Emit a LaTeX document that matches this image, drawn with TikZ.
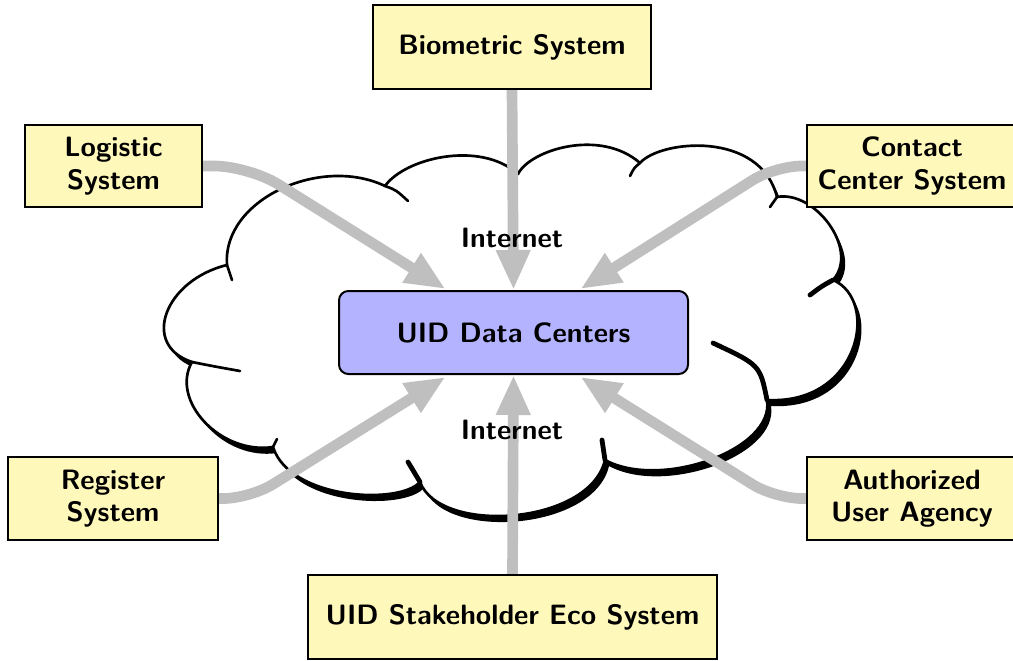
\documentclass[tikz,border=0pt]{standalone}
\usepackage{fontspec}
\usetikzlibrary{arrows.meta,calc}
\definecolor{boxyellow}{RGB}{255,248,187}
\definecolor{dcblue}{RGB}{179,179,255}
\definecolor{arrowgray}{RGB}{191,191,191}
\pgfdeclarelayer{cloudlayer}
\pgfdeclarelayer{arrowlayer}
\pgfsetlayers{cloudlayer,arrowlayer,main}
\newcommand{\txtfont}{\sffamily\bfseries\fontsize{21}{24.5}\selectfont}
\newcommand{\cloudpath}{(227,265) .. controls (222,200) and (320,155) .. (385,186)
 .. controls (405,158) and (480,140) .. (518,174)
 .. controls (530,150) and (600,128) .. (640,163)
 .. controls (660,140) and (760,130) .. (777,197)
 .. controls (815,190) and (860,250) .. (833,280)
 .. controls (880,300) and (860,405) .. (767,400)
 .. controls (775,450) and (660,490) .. (605,460)
 .. controls (590,525) and (440,535) .. (420,482)
 .. controls (400,505) and (290,500) .. (273,447)
 .. controls (220,455) and (170,400) .. (192,362)
 .. controls (140,345) and (165,280) .. (227,265) -- cycle}
\tikzset{
 sysbox/.style={draw=black, line width=1.6pt, fill=boxyellow, inner sep=0pt, align=center, font=\txtfont},
 dcbox/.style={draw=black, line width=1.5pt, fill=dcblue, rounded corners=7pt, inner sep=0pt, align=center, font=\txtfont},
 lbl/.style={inner sep=0pt, font=\txtfont},
 conn/.style={draw=arrowgray, line width=8pt, -{Triangle[length=30pt,width=24pt]}},
 cloudline/.style={draw=black, line width=2pt, line cap=round, line join=round},
 hookline/.style={draw=black, line width=2pt, line cap=round},
 hookthick/.style={draw=black, line width=3.6pt, line cap=round},
}
\begin{document}
\begin{tikzpicture}[x=0.75pt,y=-0.75pt]
\useasboundingbox (0,0) rectangle (1013,660);

% nodes
\node[sysbox, minimum width=208.5pt, minimum height=63pt] (bio) at (512,47) {Biometric System};
\node[sysbox, minimum width=132.75pt, minimum height=61.5pt] (log) at (113.5,166) {Logistic\\System};
\node[sysbox, minimum width=157.5pt, minimum height=61.5pt] (cc) at (912,166) {Contact\\Center System};
\node[sysbox, minimum width=157.5pt, minimum height=62.25pt] (reg) at (113,498.5) {Register\\System};
\node[sysbox, minimum width=157.5pt, minimum height=62.25pt] (aua) at (912,498.5) {Authorized\\User Agency};
\node[sysbox, minimum width=306.75pt, minimum height=63pt] (uid) at (512.5,617) {UID Stakeholder Eco System};
\node[dcbox, minimum width=261.75pt, minimum height=62.25pt] (dc) at (513.5,332.5) {UID Data Centers};

\node[lbl] (inet1) at (512,238) {Internet};
\node[lbl] (inet2) at (512,430) {Internet};

% connector helper points
\coordinate (tNW) at ($(dc.north)+(-68,-1)$);
\coordinate (tNE) at ($(dc.north)+(67,-1)$);
\coordinate (tSW) at ($(dc.south)+(-68,2)$);
\coordinate (tSE) at ($(dc.south)+(67,2)$);
\coordinate (kLog) at (249,166);
\coordinate (kCC) at (775,166);
\coordinate (kReg) at (250,498.5);
\coordinate (kAua) at (775,498.5);

% cloud
\begin{pgfonlayer}{cloudlayer}
\begin{scope}[shift={(4,6)}]
\fill[black] \cloudpath;
\end{scope}
\fill[white] \cloudpath;
\draw[cloudline] \cloudpath;
\draw[hookline] (227,265) .. controls (229,272) .. (232,280);
\draw[hookline] (385,186) .. controls (396,190) .. (408,201);
\draw[hookline] (640,163) .. controls (634,168) .. (630,176);
\draw[hookline] (777,197) -- (770,207);
\draw[hookthick] (833,280) .. controls (822,286) .. (810,295);
\draw[hookthick] (767,400) .. controls (760,365) .. (713,343);
\draw[hookthick] (605,460) .. controls (604,450) .. (602,440);
\draw[hookthick] (420,482) .. controls (414,472) .. (408,462);
\draw[hookline] (273,447) -- (277,439);
\draw[hookline] (192,362) .. controls (212,366) .. (240,371);
\end{pgfonlayer}

% connectors
\begin{pgfonlayer}{arrowlayer}
\draw[conn] (bio.south) -- (dc.north);
\draw[conn] (uid.north) -- (dc.south);
\draw[conn, rounded corners=26pt] (log.east) -- (kLog) -- (tNW);
\draw[conn, rounded corners=20pt] (cc.west) -- (kCC) -- (tNE);
\draw[conn, rounded corners=20pt] (reg.east) -- (kReg) -- (tSW);
\draw[conn, rounded corners=20pt] (aua.west) -- (kAua) -- (tSE);
\end{pgfonlayer}
\end{tikzpicture}
\end{document}
